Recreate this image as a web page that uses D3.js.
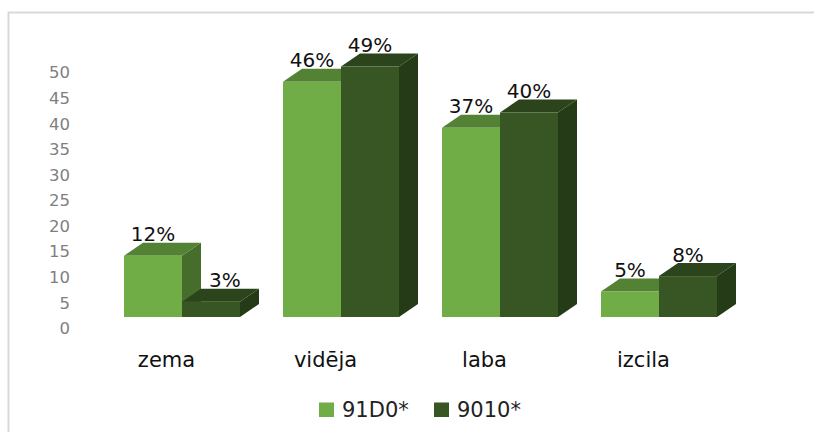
<!DOCTYPE html>
<html>
<head>
<meta charset="utf-8">
<script src="https://cdn.jsdelivr.net/npm/d3@7/dist/d3.min.js"></script>
<style>
  html, body { margin: 0; padding: 0; background: #fff; }
  svg { display: block; font-family: "DejaVu Sans", Verdana, sans-serif; }
</style>
</head>
<body>
<svg id="chart" width="814" height="432"></svg>
<script>
const categories = ["zema", "vidēja", "laba", "izcila"];
const seriesNames = ["91D0*", "9010*"];
const values91D0 = [12, 46, 37, 5];
const values9010 = [3, 49, 40, 8];
const yTicks = [0, 5, 10, 15, 20, 25, 30, 35, 40, 45, 50];

const seriesValues = [values91D0, values9010];
const colors = [
  { front: "#70ad47", top: "#548235", side: "#466d2c" },
  { front: "#375623", top: "#2b441b", side: "#253a17" }
];
const depthX = 19, depthY = 13;

const svg = d3.select("#chart");

// chart border (light gray frame, extends past right/bottom edge)
svg.append("rect")
  .attr("x", 8.5).attr("y", 12.5)
  .attr("width", 830).attr("height", 440)
  .attr("fill", "none").attr("stroke", "#d9d9d9").attr("stroke-width", 2);

const y = d3.scaleLinear().domain([0, 50]).range([317, 317 - 255.6]);
const x0 = d3.scaleBand().domain(categories).range([102.5, 738.5])
  .paddingInner(43 / 159).paddingOuter(43 / 318);
const x1 = d3.scaleBand().domain(seriesNames).range([0, x0.bandwidth()]);

// y axis labels (Excel 3D axis sits slightly below the bars' front baseline)
const axis = d3.axisLeft(y).tickValues(yTicks).tickSize(0).tickPadding(0);
const gAxis = svg.append("g").attr("transform", "translate(70,11.3)").call(axis);
gAxis.select(".domain").remove();
gAxis.selectAll("text")
  .attr("font-family", "DejaVu Sans, sans-serif")
  .attr("font-size", 16.5)
  .attr("fill", "#7f7f7f");

// bars
const bars = [];
categories.forEach((c, i) => {
  seriesNames.forEach((s, j) => {
    const v = seriesValues[j][i];
    bars.push({ c, s, j, v, x: x0(c) + x1(s), w: x1.bandwidth(), yt: y(v), yb: y(0) });
  });
});

const gBars = svg.append("g");
bars.forEach(b => {
  const col = colors[b.j];
  const g = gBars.append("g");
  // side face
  g.append("path")
    .attr("d", `M${b.x + b.w},${b.yt} L${b.x + b.w + depthX},${b.yt - depthY} L${b.x + b.w + depthX},${b.yb - depthY} L${b.x + b.w},${b.yb} Z`)
    .attr("fill", col.side);
  // top face
  g.append("path")
    .attr("d", `M${b.x},${b.yt} L${b.x + depthX},${b.yt - depthY} L${b.x + b.w + depthX},${b.yt - depthY} L${b.x + b.w},${b.yt} Z`)
    .attr("fill", col.top);
  // front face
  g.append("rect")
    .attr("x", b.x).attr("y", b.yt)
    .attr("width", b.w).attr("height", b.yb - b.yt)
    .attr("fill", col.front);
});

// data labels
const gLabels = svg.append("g")
  .attr("font-family", "DejaVu Sans, sans-serif")
  .attr("font-size", 20)
  .attr("fill", "#111");
bars.forEach((b, k) => {
  let cx = b.x + b.w / 2;
  const t = gLabels.append("text")
    .attr("x", cx).attr("y", b.yt - depthY - 1.5)
    .attr("text-anchor", "middle")
    .text(b.v + "%");
  // avoid overlapping the previous (taller) bar's side face
  if (b.j > 0) {
    const prev = bars[k - 1];
    if (prev.yt < b.yt) {
      const wT = t.node().getComputedTextLength();
      const sideRight = prev.x + prev.w + depthX;
      if (cx - wT / 2 < sideRight + 8) {
        cx = sideRight + 8 + wT / 2;
        t.attr("x", cx);
      }
    }
  }
});

// category labels
svg.append("g")
  .selectAll("text").data(categories).join("text")
  .attr("x", d => x0(d) + x0.bandwidth() / 2 - 15.5)
  .attr("y", 366.5)
  .attr("text-anchor", "middle")
  .attr("font-size", 21)
  .attr("fill", "#111")
  .text(d => d);

// legend
const legendItems = [
  { name: seriesNames[0], color: colors[0].front, x: 319 },
  { name: seriesNames[1], color: colors[1].front, x: 434 }
];
const gLeg = svg.append("g");
legendItems.forEach(it => {
  gLeg.append("rect").attr("x", it.x).attr("y", 402.5).attr("width", 15).attr("height", 14.5).attr("fill", it.color);
  gLeg.append("text").attr("x", it.x + 23).attr("y", 417).attr("font-size", 21).attr("fill", "#222").text(it.name);
});
</script>
</body>
</html>
